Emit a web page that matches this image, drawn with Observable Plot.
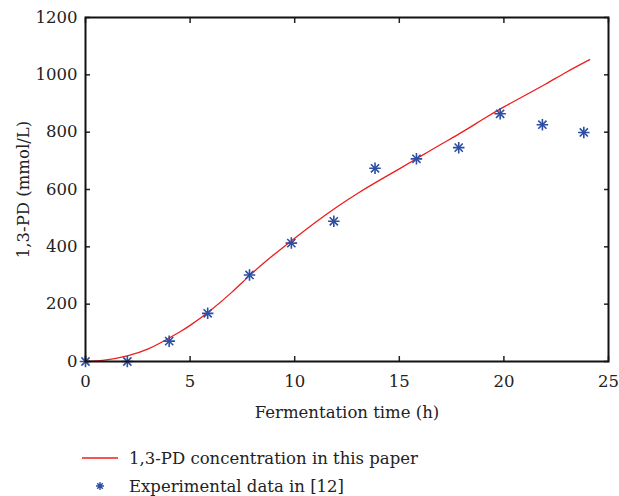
<!DOCTYPE html>
<html>
<head>
<meta charset="utf-8">
<script src="https://cdn.jsdelivr.net/npm/d3@7"></script>
<script src="https://cdn.jsdelivr.net/npm/@observablehq/plot@0.6"></script>
<style>
  body { margin: 0; background: #fff; font-family: "DejaVu Serif", serif; }
  #wrap { position: relative; width: 619px; height: 496px; }
  #legend { position: absolute; left: 0; top: 444px; font-size: 16.5px; color: #222; }
  .row { display: flex; align-items: center; height: 28px; }
  .row svg { margin-left: 82px; margin-right: 11px; }
</style>
</head>
<body>
<div id="wrap">
  <div id="chart"></div>
  <div id="legend"></div>
</div>
<script>
// Model curve (1,3-PD concentration in this paper)
const modelTime = [0, 1, 2, 3, 4, 4.5, 5, 6, 7, 8, 9, 10, 11, 12, 13, 14, 15, 16, 17, 18, 19, 20, 21, 22, 23, 24.1];
const modelConc = [0, 6, 20, 44, 82, 103, 126, 180, 242, 310, 372, 430, 486, 538, 586, 630, 672, 715, 758, 800, 845, 888, 928, 968, 1010, 1053];

// Experimental data in [12]
const expTime = [0, 2, 4, 5.84, 7.84, 9.84, 11.87, 13.84, 15.82, 17.84, 19.82, 21.84, 23.82];
const expConc = [0, 0, 71, 168, 302, 413, 489, 674, 707, 746, 864, 826, 799];

const xTicks = [0, 5, 10, 15, 20, 25];
const yTicks = [0, 200, 400, 600, 800, 1000, 1200];

const seriesNames = ["1,3-PD concentration in this paper", "Experimental data in [12]"];
const lineColor = "#ee1c1c";
const starColor = "#2c4ea3";

const model = modelTime.map((t, i) => ({t, c: modelConc[i]}));
const exp = expTime.map((t, i) => ({t, c: expConc[i]}));

const font = "DejaVu Serif";
const fmt = d3.format("d");

const chart = Plot.plot({
  width: 619,
  height: 425,
  marginLeft: 85,
  marginRight: 11,
  marginTop: 17,
  marginBottom: 64,
  style: {fontFamily: font, fontSize: "16.5px", color: "#222", background: "white"},
  x: {domain: [0, 25]},
  y: {domain: [0, 1200]},
  marks: [
    Plot.line(model, {x: "t", y: "c", stroke: lineColor, strokeWidth: 1.3, curve: "natural"}),
    Plot.dot(exp, {x: "t", y: "c", symbol: "plus", r: 3.8, stroke: starColor, strokeWidth: 1.6}),
    Plot.dot(exp, {x: "t", y: "c", symbol: "times", r: 3.8, stroke: starColor, strokeWidth: 1.6}),
    Plot.axisX({anchor: "bottom", ticks: xTicks, tickFormat: fmt, tickSize: -5, tickPadding: 19, strokeWidth: 1.5,
      label: "Fermentation time (h)", labelAnchor: "center", labelArrow: "none", labelOffset: 56}),
    Plot.axisX({anchor: "top", ticks: xTicks, tickSize: -5, tickFormat: () => "", label: null, strokeWidth: 1.5}),
    Plot.axisY({anchor: "left", ticks: yTicks, tickFormat: fmt, tickSize: -5, tickPadding: 13, strokeWidth: 1.5,
      label: "1,3-PD (mmol/L)", labelAnchor: "center", labelArrow: "none", labelOffset: 68}),
    Plot.axisY({anchor: "right", ticks: yTicks, tickSize: -5, tickFormat: () => "", label: null, strokeWidth: 1.5}),
    Plot.frame({stroke: "#111", strokeWidth: 2})
  ]
});
document.getElementById("chart").appendChild(chart);

// Legend
const legend = document.getElementById("legend");
seriesNames.forEach((name, i) => {
  const row = document.createElement("div");
  row.className = "row";
  const ns = "http://www.w3.org/2000/svg";
  const s = document.createElementNS(ns, "svg");
  s.setAttribute("width", 36);
  s.setAttribute("height", 20);
  if (i === 0) {
    const l = document.createElementNS(ns, "line");
    l.setAttribute("x1", 0); l.setAttribute("x2", 36);
    l.setAttribute("y1", 10); l.setAttribute("y2", 10);
    l.setAttribute("stroke", lineColor); l.setAttribute("stroke-width", 1.3);
    s.appendChild(l);
  } else {
    const g = document.createElementNS(ns, "path");
    g.setAttribute("d", "M18,6V14M14,10H22M15.2,7.2L20.8,12.8M15.2,12.8L20.8,7.2");
    g.setAttribute("stroke", starColor); g.setAttribute("stroke-width", 1.4);
    s.appendChild(g);
  }
  row.appendChild(s);
  const span = document.createElement("span");
  span.textContent = name;
  row.appendChild(span);
  legend.appendChild(row);
});
</script>
</body>
</html>
